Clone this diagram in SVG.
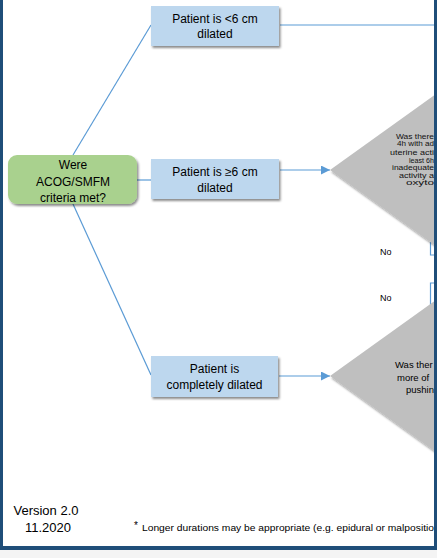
<svg xmlns="http://www.w3.org/2000/svg" width="437" height="558" viewBox="0 0 437 558">
<style>
.t{font-family:"Liberation Sans",Arial,sans-serif;fill:#000;text-anchor:middle}
.box{fill:#BDD7EE}
.grn{fill:#A9D18E}
.dia{fill:#BFBFBF}
.ln{stroke:#5B9BD5;stroke-width:1.2;fill:none}
.sm{font-family:"Liberation Sans",Arial,sans-serif;fill:#000}
.q1{font-family:"Liberation Sans",Arial,sans-serif;fill:#111;font-size:6.6px}
</style>
<defs>
<filter id="sh" x="-10%" y="-10%" width="130%" height="140%">
<feDropShadow dx="1.5" dy="2" stdDeviation="1.2" flood-color="#000" flood-opacity="0.45"/>
</filter>
<marker id="ah" viewBox="0 0 10 10" refX="10" refY="5" markerWidth="9" markerHeight="9" markerUnits="userSpaceOnUse" orient="auto">
<path d="M0,0 L10,5 L0,10 z" fill="#5B9BD5"/>
</marker>
<clipPath id="cp"><rect x="0" y="0" width="434" height="546"/></clipPath>
</defs>
<rect x="0" y="0" width="437" height="558" fill="#fff"/>
<g clip-path="url(#cp)">
<g id="connectors">
<line class="ln" x1="73" y1="155" x2="151" y2="25"/>
<line class="ln" x1="137" y1="180" x2="151" y2="180"/>
<line class="ln" x1="73" y1="204" x2="151" y2="375"/>
<line class="ln" x1="280" y1="25" x2="434" y2="25"/>
<line class="ln" x1="280" y1="170" x2="330" y2="170" marker-end="url(#ah)"/>
<line class="ln" x1="279" y1="376" x2="330" y2="376" marker-end="url(#ah)"/>
<path class="ln" d="M430.5,242 V255 H434"/>
<path class="ln" d="M430.5,306 V283 H434"/>
</g>
<g id="node-lt6">
<rect class="box" x="151" y="6" width="128" height="40" filter="url(#sh)"/>
<text class="t" x="215" y="23" font-size="12">Patient is &lt;6 cm</text>
<text class="t" x="215" y="38" font-size="12">dilated</text>
</g>
<g id="node-criteria">
<rect class="grn" x="8" y="155" width="129" height="49" rx="9" filter="url(#sh)"/>
<text class="t" x="73" y="169" font-size="12">Were</text>
<text class="t" x="73" y="186" font-size="12">ACOG/SMFM</text>
<text class="t" x="73" y="202" font-size="12">criteria met?</text>
</g>
<g id="node-ge6">
<rect class="box" x="151" y="159" width="128" height="40" filter="url(#sh)"/>
<text class="t" x="215" y="176" font-size="12">Patient is ≥6 cm</text>
<text class="t" x="215" y="192" font-size="12">dilated</text>
</g>
<g id="node-complete">
<rect class="box" x="151" y="356" width="127" height="41" filter="url(#sh)"/>
<text class="t" x="214.5" y="373" font-size="12">Patient is</text>
<text class="t" x="214.5" y="389" font-size="12">completely dilated</text>
</g>
<g id="node-q1">
<polygon class="dia" points="330,170 436,94 542,170 436,246" filter="url(#sh)"/>
<text class="q1" x="396" y="138.5" textLength="38" lengthAdjust="spacingAndGlyphs">Was there</text>
<text class="q1" x="397" y="146" textLength="37" lengthAdjust="spacingAndGlyphs">4h with ad</text>
<text class="q1" x="390" y="155" textLength="44" lengthAdjust="spacingAndGlyphs">uterine acti</text>
<text class="q1" x="409" y="162.5" textLength="25" lengthAdjust="spacingAndGlyphs">least 6h</text>
<text class="q1" x="392" y="170" textLength="42" lengthAdjust="spacingAndGlyphs">inadequate</text>
<text class="q1" x="399" y="177.5" textLength="35" lengthAdjust="spacingAndGlyphs">activity a</text>
<text class="q1" x="406" y="185" textLength="28" lengthAdjust="spacingAndGlyphs">oxyto</text>
</g>
<g id="node-q2">
<polygon class="dia" points="330,376 436,300 542,376 436,452" filter="url(#sh)"/>
<text class="sm" x="395" y="367.5" font-size="9.5">Was ther</text>
<text class="sm" x="397" y="380.5" font-size="9.5">more of</text>
<text class="sm" x="406" y="392.5" font-size="9.5">pushin</text>
</g>
<g id="labels">
<text class="sm" x="380" y="254.5" font-size="9">No</text>
<text class="sm" x="380" y="300.5" font-size="9">No</text>
</g>
<g id="footer">
<text class="t" x="46" y="515" font-size="13">Version 2.0</text>
<text class="t" x="48" y="532" font-size="13">11.2020</text>
<text class="sm" x="134" y="529" font-size="10">*</text>
<text class="sm" x="142" y="531" font-size="9" textLength="292" lengthAdjust="spacingAndGlyphs">Longer durations may be appropriate (e.g. epidural or malpositio</text>
</g>
</g>
<g id="frame">
<rect x="0" y="0" width="3" height="550" fill="#1F4E79"/>
<rect x="434" y="0" width="3" height="550" fill="#1F4E79"/>
<rect x="0" y="546" width="437" height="4" fill="#1F4E79"/>
<rect x="0" y="550" width="437" height="8" fill="#F4F4F4"/>
</g>
</svg>
